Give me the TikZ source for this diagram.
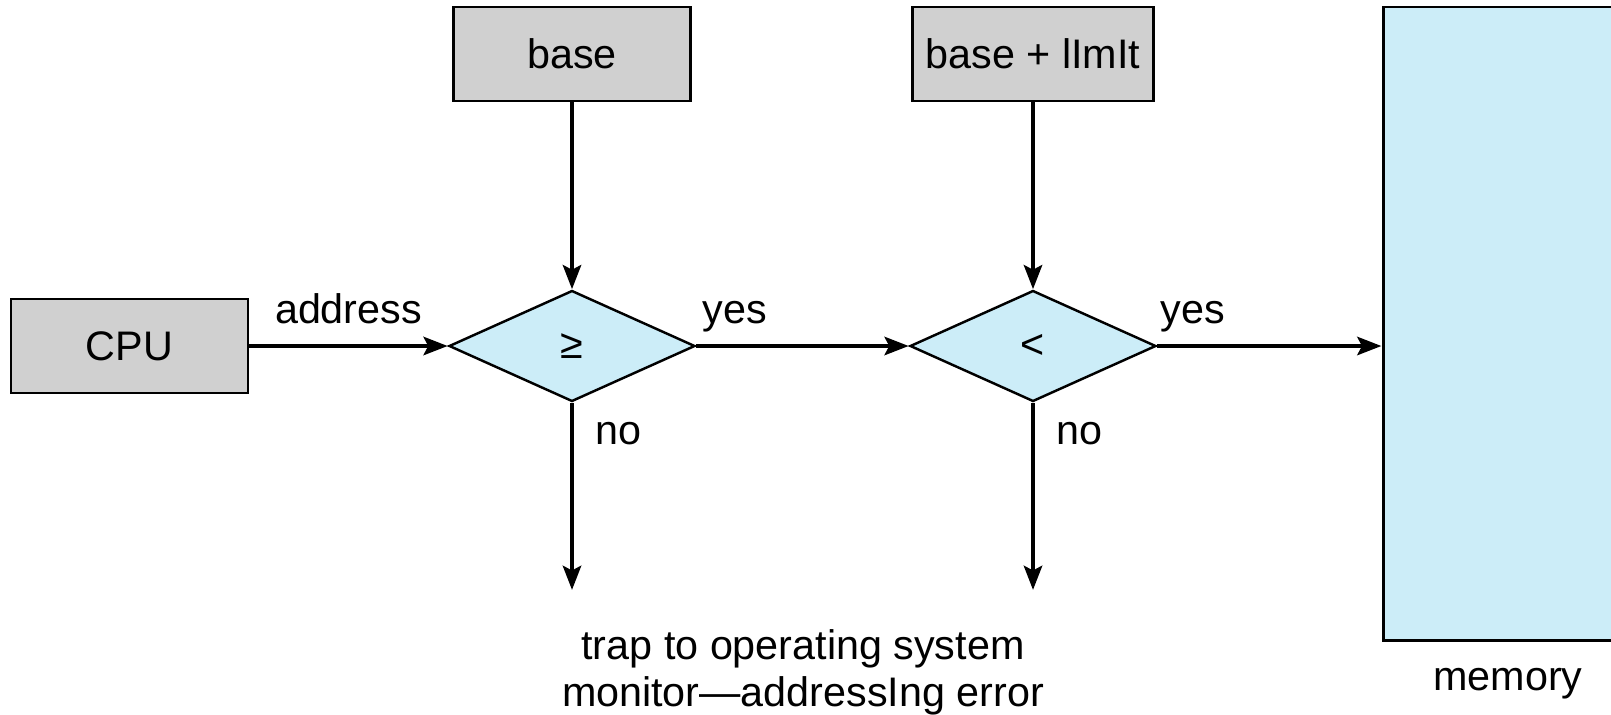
\documentclass[tikz,border=0pt]{standalone}
\usepackage{fontspec}
\setmainfont{Liberation Sans}
\usetikzlibrary{arrows.meta,shapes}
\definecolor{regfill}{RGB}{208,208,208}
\definecolor{cmpfill}{RGB}{204,237,248}
\tikzstyle{reg} = [rectangle, draw, line width=1.4pt, fill=regfill,
    minimum width=4.74cm, minimum height=1.88cm, inner sep=0pt]
\tikzstyle{cmp} = [diamond, draw, line width=1.4pt, fill=cmpfill,
    minimum width=4.92cm, minimum height=2.22cm, inner sep=0pt]
\tikzstyle{mem} = [rectangle, draw, line width=1.7pt, fill=cmpfill,
    minimum width=5.84cm, minimum height=12.66cm]
\tikzstyle{lbl} = [inner sep=0pt]

\begin{document}
\begin{tikzpicture}[->,>={Stealth[length=0.48cm,width=0.36cm,inset=0.09cm]},
                    line width=2.8pt,node distance=9.22cm,
                    font=\fontsize{23.5}{25}\selectfont]
  \useasboundingbox (0,0) rectangle (32.22,-14.28);

  \node[reg]           (cpu)   at (2.59,-6.92) {CPU};
  \node[cmp]           (ge)    [right of=cpu, xshift=-0.37cm] {≥};
  \node[cmp]           (lt)    [right of=ge] {<};
  \node[reg]           (base)  [above of=ge, yshift=-3.38cm] {base};
  \node[reg, minimum width=4.82cm] (limit) [above of=lt, yshift=-3.38cm] {base + lImIt};
  \node[mem]           (mem)   [right of=lt, xshift=0.7cm, yshift=0.45cm] {};
  \node[lbl, anchor=base] (memtxt) at (30.16,-13.8) {memory};
  \node[lbl, align=center, font=\fontsize{23.5}{27}\selectfont] (trap) at (16.06,-13.45)
      {trap to operating system\\monitor—addressIng error};
  \coordinate (geout) at ([yshift=-4.88cm]ge.center);
  \coordinate (ltout) at ([yshift=-4.88cm]lt.center);

  \path (cpu) edge node[lbl, anchor=base, yshift=0.46cm] {address} (ge)
  (base) edge (ge)
  (limit) edge (lt)
  (ge) edge node[lbl, pos=0, anchor=base west, xshift=0.08cm, yshift=0.46cm] {yes} (lt)
  (lt) edge node[lbl, pos=0, anchor=base west, xshift=0.02cm, yshift=0.46cm] {yes} (lt.east -| mem.west)
  (ge) edge node[lbl, pos=0, anchor=base west, xshift=0.42cm, yshift=-0.83cm] {no} (geout)
  (lt) edge node[lbl, pos=0, anchor=base west, xshift=0.42cm, yshift=-0.83cm] {no} (ltout);
\end{tikzpicture}
\end{document}
